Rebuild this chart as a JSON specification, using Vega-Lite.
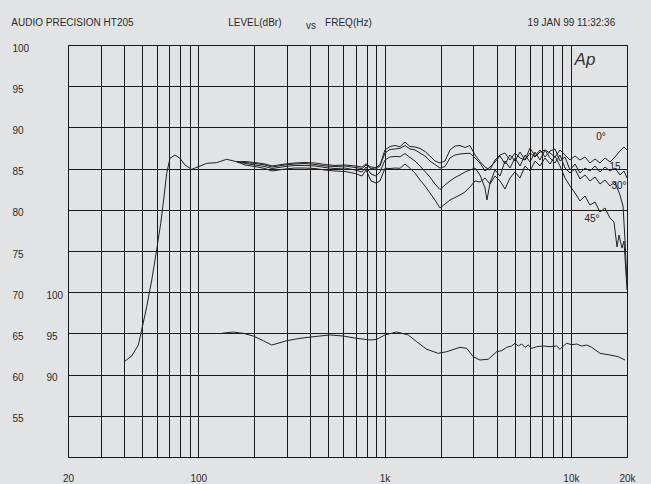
{
  "$schema": "https://vega.github.io/schema/vega-lite/v6.json",
  "width": 559,
  "height": 412,
  "autosize": "none",
  "padding": {"left": 68, "top": 45, "right": 24, "bottom": 27},
  "background": "#e2e3e5",
  "config": {
    "view": {"stroke": "#1a1a1a", "strokeWidth": 1, "fill": "#e2e3e5"},
    "font": "Liberation Sans",
    "axis": {"labelFont": "Liberation Sans", "labelFontSize": 10, "labelColor": "#2b2b2b", "ticks": false, "tickSize": 0, "domain": false, "title": null, "labelOverlap": false, "labelFlush": false}
  },
  "datasets": {
    "response": [
      {"angle":"all","freq":40.1,"level":61.57},{"angle":"all","freq":43.95,"level":62.26},{"angle":"all","freq":47.7,"level":63.59},{"angle":"all","freq":49.7,"level":65.41},{"angle":"all","freq":52.9,"level":68.24},{"angle":"all","freq":56.3,"level":71.48},{"angle":"all","freq":59.8,"level":75.12},{"angle":"all","freq":62.9,"level":78.36},{"angle":"all","freq":65.5,"level":81.59},{"angle":"all","freq":67.7,"level":84.43},{"angle":"all","freq":70.5,"level":86.25},{"angle":"all","freq":75.0,"level":86.65},{"angle":"all","freq":79.8,"level":86.25},{"angle":"all","freq":84.9,"level":85.44},{"angle":"all","freq":92.2,"level":84.91},{"angle":"all","freq":100.1,"level":85.23},{"angle":"all","freq":111.0,"level":85.64},{"angle":"all","freq":125.6,"level":85.72},{"angle":"all","freq":142.1,"level":86.13},{"angle":"all","freq":160.8,"level":85.84},

      {"angle":"0°","freq":160.8,"level":85.84},{"angle":"0°","freq":178.2,"level":85.86},{"angle":"0°","freq":201.6,"level":85.74},{"angle":"0°","freq":228.2,"level":85.56},{"angle":"0°","freq":248.9,"level":85.32},{"angle":"0°","freq":292.2,"level":85.56},{"angle":"0°","freq":330.6,"level":85.68},{"angle":"0°","freq":374.1,"level":85.74},{"angle":"0°","freq":423.2,"level":85.68},{"angle":"0°","freq":479,"level":85.50},{"angle":"0°","freq":541.9,"level":85.38},{"angle":"0°","freq":613.2,"level":85.44},{"angle":"0°","freq":693.9,"level":85.32},{"angle":"0°","freq":756.7,"level":85.19},{"angle":"0°","freq":795.1,"level":85.56},{"angle":"0°","freq":845.7,"level":85.19},{"angle":"0°","freq":899.7,"level":85.13},{"angle":"0°","freq":944.9,"level":85.44},{"angle":"0°","freq":1005,"level":87.26},{"angle":"0°","freq":1069,"level":87.68},{"angle":"0°","freq":1137,"level":87.80},{"angle":"0°","freq":1210,"level":87.66},{"angle":"0°","freq":1287,"level":88.23},{"angle":"0°","freq":1369,"level":87.68},{"angle":"0°","freq":1456,"level":87.62},{"angle":"0°","freq":1549,"level":87.44},{"angle":"0°","freq":1648,"level":87.08},{"angle":"0°","freq":1753,"level":86.53},{"angle":"0°","freq":1864,"level":85.92},{"angle":"0°","freq":1983,"level":85.68},{"angle":"0°","freq":2110,"level":85.92},{"angle":"0°","freq":2244,"level":87.26},{"angle":"0°","freq":2387,"level":87.74},{"angle":"0°","freq":2539,"level":87.80},{"angle":"0°","freq":2702,"level":87.56},{"angle":"0°","freq":2873,"level":87.80},{"angle":"0°","freq":3057,"level":86.65},{"angle":"0°","freq":3252,"level":85.86},{"angle":"0°","freq":3459,"level":85.19},{"angle":"0°","freq":3679,"level":84.83},{"angle":"0°","freq":3914,"level":86.04},{"angle":"0°","freq":4164,"level":86.65},{"angle":"0°","freq":4430,"level":86.89},{"angle":"0°","freq":4711,"level":86.04},{"angle":"0°","freq":5011,"level":86.89},{"angle":"0°","freq":5332,"level":86.29},{"angle":"0°","freq":5671,"level":86.04},{"angle":"0°","freq":6033,"level":86.89},{"angle":"0°","freq":6418,"level":86.41},{"angle":"0°","freq":6826,"level":87.01},{"angle":"0°","freq":7262,"level":87.26},{"angle":"0°","freq":7725,"level":86.89},{"angle":"0°","freq":8217,"level":86.41},{"angle":"0°","freq":8742,"level":87.26},{"angle":"0°","freq":9297,"level":86.65},{"angle":"0°","freq":9888,"level":86.04},{"angle":"0°","freq":10520,"level":86.53},{"angle":"0°","freq":11190,"level":86.04},{"angle":"0°","freq":11900,"level":86.41},{"angle":"0°","freq":12660,"level":85.68},{"angle":"0°","freq":13470,"level":86.17},{"angle":"0°","freq":14330,"level":85.68},{"angle":"0°","freq":15240,"level":86.29},{"angle":"0°","freq":16210,"level":85.80},{"angle":"0°","freq":17240,"level":86.41},{"angle":"0°","freq":18340,"level":87.14},{"angle":"0°","freq":19270,"level":87.62},{"angle":"0°","freq":20000,"level":87.26},

      {"angle":"15°","freq":160.8,"level":85.84},{"angle":"15°","freq":178.2,"level":85.74},{"angle":"15°","freq":201.6,"level":85.62},{"angle":"15°","freq":228.2,"level":85.44},{"angle":"15°","freq":248.9,"level":85.19},{"angle":"15°","freq":292.2,"level":85.44},{"angle":"15°","freq":330.6,"level":85.56},{"angle":"15°","freq":374.1,"level":85.62},{"angle":"15°","freq":423.2,"level":85.50},{"angle":"15°","freq":479,"level":85.32},{"angle":"15°","freq":541.9,"level":85.25},{"angle":"15°","freq":613.2,"level":85.32},{"angle":"15°","freq":693.9,"level":85.13},{"angle":"15°","freq":756.7,"level":85.01},{"angle":"15°","freq":795.1,"level":85.44},{"angle":"15°","freq":845.7,"level":85.01},{"angle":"15°","freq":899.7,"level":84.95},{"angle":"15°","freq":944.9,"level":85.32},{"angle":"15°","freq":1005,"level":86.89},{"angle":"15°","freq":1069,"level":87.32},{"angle":"15°","freq":1137,"level":87.38},{"angle":"15°","freq":1210,"level":87.46},{"angle":"15°","freq":1287,"level":87.80},{"angle":"15°","freq":1369,"level":87.38},{"angle":"15°","freq":1456,"level":87.26},{"angle":"15°","freq":1549,"level":86.89},{"angle":"15°","freq":1648,"level":86.53},{"angle":"15°","freq":1753,"level":85.92},{"angle":"15°","freq":1864,"level":85.50},{"angle":"15°","freq":1983,"level":85.07},{"angle":"15°","freq":2110,"level":85.25},{"angle":"15°","freq":2244,"level":86.29},{"angle":"15°","freq":2387,"level":86.65},{"angle":"15°","freq":2539,"level":86.77},{"angle":"15°","freq":2702,"level":86.83},{"angle":"15°","freq":2873,"level":86.86},{"angle":"15°","freq":3057,"level":86.29},{"angle":"15°","freq":3252,"level":85.68},{"angle":"15°","freq":3459,"level":84.71},{"angle":"15°","freq":3679,"level":85.19},{"angle":"15°","freq":3914,"level":85.80},{"angle":"15°","freq":4164,"level":86.53},{"angle":"15°","freq":4430,"level":85.56},{"angle":"15°","freq":4711,"level":86.65},{"angle":"15°","freq":5011,"level":85.92},{"angle":"15°","freq":5332,"level":87.01},{"angle":"15°","freq":5671,"level":86.04},{"angle":"15°","freq":6033,"level":87.50},{"angle":"15°","freq":6418,"level":86.53},{"angle":"15°","freq":6826,"level":87.26},{"angle":"15°","freq":7262,"level":86.41},{"angle":"15°","freq":7725,"level":87.14},{"angle":"15°","freq":8217,"level":87.38},{"angle":"15°","freq":8742,"level":85.92},{"angle":"15°","freq":9297,"level":86.41},{"angle":"15°","freq":9888,"level":84.83},{"angle":"15°","freq":10520,"level":85.56},{"angle":"15°","freq":11190,"level":84.47},{"angle":"15°","freq":11900,"level":85.07},{"angle":"15°","freq":12660,"level":84.71},{"angle":"15°","freq":13470,"level":85.32},{"angle":"15°","freq":14330,"level":84.59},{"angle":"15°","freq":15240,"level":85.19},{"angle":"15°","freq":16210,"level":84.71},{"angle":"15°","freq":17240,"level":85.07},{"angle":"15°","freq":18340,"level":84.22},{"angle":"15°","freq":19270,"level":84.71},{"angle":"15°","freq":20000,"level":83.86},

      {"angle":"30°","freq":160.8,"level":85.84},{"angle":"30°","freq":178.2,"level":85.62},{"angle":"30°","freq":201.6,"level":85.44},{"angle":"30°","freq":228.2,"level":85.25},{"angle":"30°","freq":248.9,"level":85.01},{"angle":"30°","freq":292.2,"level":85.25},{"angle":"30°","freq":330.6,"level":85.38},{"angle":"30°","freq":374.1,"level":85.38},{"angle":"30°","freq":423.2,"level":85.32},{"angle":"30°","freq":479,"level":85.13},{"angle":"30°","freq":541.9,"level":85.01},{"angle":"30°","freq":613.2,"level":85.07},{"angle":"30°","freq":693.9,"level":84.83},{"angle":"30°","freq":756.7,"level":84.59},{"angle":"30°","freq":795.1,"level":85.19},{"angle":"30°","freq":845.7,"level":84.34},{"angle":"30°","freq":899.7,"level":84.10},{"angle":"30°","freq":944.9,"level":84.59},{"angle":"30°","freq":1005,"level":86.04},{"angle":"30°","freq":1069,"level":86.41},{"angle":"30°","freq":1137,"level":86.47},{"angle":"30°","freq":1210,"level":86.44},{"angle":"30°","freq":1287,"level":86.83},{"angle":"30°","freq":1369,"level":86.35},{"angle":"30°","freq":1456,"level":85.92},{"angle":"30°","freq":1549,"level":85.32},{"angle":"30°","freq":1648,"level":84.65},{"angle":"30°","freq":1753,"level":83.98},{"angle":"30°","freq":1864,"level":83.13},{"angle":"30°","freq":1983,"level":82.46},{"angle":"30°","freq":2110,"level":83.01},{"angle":"30°","freq":2244,"level":83.50},{"angle":"30°","freq":2387,"level":83.92},{"angle":"30°","freq":2539,"level":84.22},{"angle":"30°","freq":2702,"level":84.59},{"angle":"30°","freq":2873,"level":84.83},{"angle":"30°","freq":3057,"level":85.07},{"angle":"30°","freq":3252,"level":84.22},{"angle":"30°","freq":3459,"level":82.65},{"angle":"30°","freq":3545,"level":81.19},{"angle":"30°","freq":3679,"level":83.25},{"angle":"30°","freq":3914,"level":84.83},{"angle":"30°","freq":4164,"level":84.10},{"angle":"30°","freq":4430,"level":85.92},{"angle":"30°","freq":4711,"level":85.07},{"angle":"30°","freq":5011,"level":86.29},{"angle":"30°","freq":5332,"level":85.32},{"angle":"30°","freq":5671,"level":86.65},{"angle":"30°","freq":6033,"level":85.80},{"angle":"30°","freq":6418,"level":87.01},{"angle":"30°","freq":6826,"level":86.04},{"angle":"30°","freq":7262,"level":87.26},{"angle":"30°","freq":7725,"level":86.29},{"angle":"30°","freq":8217,"level":85.68},{"angle":"30°","freq":8742,"level":86.65},{"angle":"30°","freq":9297,"level":85.07},{"angle":"30°","freq":9888,"level":84.47},{"angle":"30°","freq":10520,"level":84.95},{"angle":"30°","freq":11190,"level":83.74},{"angle":"30°","freq":11900,"level":84.22},{"angle":"30°","freq":12660,"level":83.50},{"angle":"30°","freq":13470,"level":83.98},{"angle":"30°","freq":14330,"level":83.13},{"angle":"30°","freq":15240,"level":83.62},{"angle":"30°","freq":16210,"level":82.89},{"angle":"30°","freq":17240,"level":83.37},{"angle":"30°","freq":18340,"level":81.80},{"angle":"30°","freq":19040,"level":80.46},{"angle":"30°","freq":19510,"level":76.33},{"angle":"30°","freq":20000,"level":71.12},

      {"angle":"45°","freq":160.8,"level":85.84},{"angle":"45°","freq":178.2,"level":85.44},{"angle":"45°","freq":201.6,"level":85.25},{"angle":"45°","freq":228.2,"level":85.01},{"angle":"45°","freq":248.9,"level":84.71},{"angle":"45°","freq":292.2,"level":84.95},{"angle":"45°","freq":330.6,"level":85.07},{"angle":"45°","freq":374.1,"level":85.07},{"angle":"45°","freq":423.2,"level":85.01},{"angle":"45°","freq":479,"level":84.83},{"angle":"45°","freq":541.9,"level":84.71},{"angle":"45°","freq":613.2,"level":84.65},{"angle":"45°","freq":693.9,"level":84.41},{"angle":"45°","freq":756.7,"level":84.10},{"angle":"45°","freq":795.1,"level":84.83},{"angle":"45°","freq":845.7,"level":83.50},{"angle":"45°","freq":899.7,"level":83.25},{"angle":"45°","freq":944.9,"level":83.50},{"angle":"45°","freq":1005,"level":85.04},{"angle":"45°","freq":1069,"level":85.01},{"angle":"45°","freq":1137,"level":85.07},{"angle":"45°","freq":1210,"level":85.04},{"angle":"45°","freq":1287,"level":85.56},{"angle":"45°","freq":1369,"level":85.04},{"angle":"45°","freq":1456,"level":84.47},{"angle":"45°","freq":1549,"level":83.62},{"angle":"45°","freq":1648,"level":82.89},{"angle":"45°","freq":1753,"level":82.04},{"angle":"45°","freq":1864,"level":81.19},{"angle":"45°","freq":1983,"level":80.22},{"angle":"45°","freq":2110,"level":80.70},{"angle":"45°","freq":2244,"level":81.19},{"angle":"45°","freq":2387,"level":81.49},{"angle":"45°","freq":2539,"level":81.80},{"angle":"45°","freq":2702,"level":82.16},{"angle":"45°","freq":2873,"level":82.77},{"angle":"45°","freq":3057,"level":83.50},{"angle":"45°","freq":3252,"level":83.37},{"angle":"45°","freq":3459,"level":83.86},{"angle":"45°","freq":3679,"level":83.13},{"angle":"45°","freq":3914,"level":84.10},{"angle":"45°","freq":4164,"level":83.50},{"angle":"45°","freq":4430,"level":82.52},{"angle":"45°","freq":4711,"level":83.86},{"angle":"45°","freq":5011,"level":84.59},{"angle":"45°","freq":5332,"level":83.86},{"angle":"45°","freq":5671,"level":85.32},{"angle":"45°","freq":6033,"level":84.71},{"angle":"45°","freq":6418,"level":85.92},{"angle":"45°","freq":6826,"level":85.32},{"angle":"45°","freq":7262,"level":86.29},{"angle":"45°","freq":7725,"level":85.56},{"angle":"45°","freq":8217,"level":86.53},{"angle":"45°","freq":8742,"level":85.32},{"angle":"45°","freq":9297,"level":83.86},{"angle":"45°","freq":9888,"level":82.89},{"angle":"45°","freq":10520,"level":82.04},{"angle":"45°","freq":11190,"level":81.07},{"angle":"45°","freq":11900,"level":81.67},{"angle":"45°","freq":12660,"level":80.58},{"angle":"45°","freq":13470,"level":80.95},{"angle":"45°","freq":14330,"level":79.73},{"angle":"45°","freq":15240,"level":80.22},{"angle":"45°","freq":16210,"level":79.00},{"angle":"45°","freq":17030,"level":78.52},{"angle":"45°","freq":17680,"level":75.49},{"angle":"45°","freq":18120,"level":76.94},{"angle":"45°","freq":18800,"level":75.36},{"angle":"45°","freq":19270,"level":76.21},{"angle":"45°","freq":20000,"level":70.27}
    ],
    "lower": [
      {"freq":133.6,"level":95.01},{"freq":154.2,"level":95.17},{"freq":174.5,"level":95.01},{"freq":197.5,"level":94.68},{"freq":223.4,"level":94.11},{"freq":247.9,"level":93.59},{"freq":274.6,"level":93.87},{"freq":298.4,"level":94.11},{"freq":351.7,"level":94.40},{"freq":414.5,"level":94.60},{"freq":509.4,"level":94.81},{"freq":600.5,"level":94.68},{"freq":708.6,"level":94.40},{"freq":835.3,"level":94.20},{"freq":907.6,"level":94.28},{"freq":1005,"level":94.81},{"freq":1162,"level":95.17},{"freq":1341,"level":94.81},{"freq":1487,"level":93.99},{"freq":1683,"level":93.07},{"freq":1942,"level":92.58},{"freq":2155,"level":92.78},{"freq":2540,"level":93.31},{"freq":2759,"level":93.19},{"freq":2993,"level":92.17},{"freq":3252,"level":91.77},{"freq":3603,"level":91.86},{"freq":3998,"level":92.78},{"freq":4252,"level":92.90},{"freq":4523,"level":93.31},{"freq":4811,"level":93.47},{"freq":5011,"level":93.80},{"freq":5220,"level":93.47},{"freq":5445,"level":93.71},{"freq":5671,"level":93.31},{"freq":5907,"level":93.59},{"freq":6160,"level":93.19},{"freq":6553,"level":93.39},{"freq":7111,"level":93.47},{"freq":7725,"level":93.39},{"freq":8389,"level":93.47},{"freq":8741,"level":93.07},{"freq":9105,"level":93.47},{"freq":9496,"level":93.80},{"freq":10100,"level":93.63},{"freq":10740,"level":93.71},{"freq":11430,"level":93.47},{"freq":12160,"level":93.59},{"freq":12930,"level":93.31},{"freq":14330,"level":92.58},{"freq":16210,"level":92.38},{"freq":17960,"level":92.17},{"freq":19510,"level":91.77}
    ],
    "notes": [
      {"label":"0°","freq":14510,"level":88.83},
      {"label":"15","freq":17240,"level":85.19},
      {"label":"30°","freq":18120,"level":82.89},
      {"label":"45°","freq":12980,"level":78.88}
    ],
    "logo": [
      {"label":"Ap","freq":11900,"level":98.18}
    ]
  },
  "layer": [
    {
      "data": {"name": "response"},
      "mark": {"type": "line", "color": "#222222", "strokeWidth": 1},
      "encoding": {
        "x": {"field": "freq", "type": "quantitative", "scale": {"type": "log", "domain": [20, 20000], "nice": false},
          "axis": {"orient": "bottom", "values": [20,30,40,50,60,70,80,90,100,200,300,400,500,600,700,800,900,1000,2000,3000,4000,5000,6000,7000,8000,9000,10000,20000],
            "grid": true, "gridColor": "#1a1a1a", "gridOpacity": 1, "gridWidth": 1, "ticks": false, "tickSize": 0, "domain": false,
            "labelPadding": 16, "labelBaseline": "top", "labelOverlap": false, "labelFlush": false,
            "labelExpr": "datum.value == 20 ? '20' : datum.value == 100 ? '100' : datum.value == 1000 ? '1k' : datum.value == 10000 ? '10k' : datum.value == 20000 ? '20k' : ''"}},
        "y": {"field": "level", "type": "quantitative", "scale": {"domain": [50, 100], "nice": false},
          "axis": {"orient": "left", "values": [55,60,65,70,75,80,85,90,95,100], "grid": true, "gridColor": "#1a1a1a", "gridOpacity": 1, "gridWidth": 1,
            "ticks": false, "tickSize": 0, "domain": false, "labelAlign": "left", "labelPadding": 56, "labelOffset": 3, "labelOverlap": false}},
        "detail": {"field": "angle", "type": "nominal"}
      }
    },
    {
      "data": {"name": "lower"},
      "mark": {"type": "line", "color": "#222222", "strokeWidth": 1},
      "encoding": {
        "x": {"field": "freq", "type": "quantitative", "axis": null},
        "y": {"field": "level", "type": "quantitative", "scale": {"domain": [80, 130], "nice": false},
          "axis": {"orient": "left", "values": [90, 95, 100], "grid": false, "ticks": false, "tickSize": 0, "domain": false,
            "labelAlign": "left", "labelPadding": 22, "labelOffset": 3, "labelOverlap": false}}
      }
    },
    {
      "data": {"name": "notes"},
      "mark": {"type": "text", "fontSize": 10, "color": "#222222", "font": "Liberation Sans"},
      "encoding": {
        "x": {"field": "freq", "type": "quantitative",
          "axis": {"orient": "top", "values": [21, 200, 400, 636, 10000], "grid": false, "ticks": false, "tickSize": 0, "domain": false,
            "labelPadding": {"condition": {"test": "datum.value == 400", "value": 15}, "value": 18}, "labelBaseline": "bottom", "labelOverlap": false, "labelFlush": false,
            "labelExpr": "datum.value == 21 ? 'AUDIO PRECISION HT205' : datum.value == 200 ? 'LEVEL(dBr)' : datum.value == 400 ? 'vs' : datum.value == 636 ? 'FREQ(Hz)' : '19 JAN 99 11:32:36'"}},
        "y": {"field": "level", "type": "quantitative", "scale": {"domain": [50, 100], "nice": false}, "axis": null},
        "text": {"field": "label", "type": "nominal"}
      }
    },
    {
      "data": {"name": "logo"},
      "mark": {"type": "text", "fontSize": 17, "fontStyle": "italic", "color": "#333333", "font": "Liberation Sans"},
      "encoding": {
        "x": {"field": "freq", "type": "quantitative", "axis": null},
        "y": {"field": "level", "type": "quantitative", "scale": {"domain": [50, 100], "nice": false}, "axis": null},
        "text": {"field": "label", "type": "nominal"}
      }
    }
  ],
  "resolve": {"scale": {"y": "independent"}, "axis": {"x": "independent", "y": "independent"}}
}
